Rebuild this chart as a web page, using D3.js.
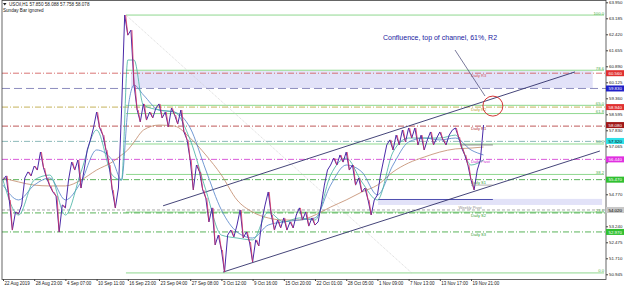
<!DOCTYPE html>
<html><head><meta charset="utf-8">
<script src="https://cdn.jsdelivr.net/npm/d3@7"></script>
<style>
body{margin:0;background:#fff;}
svg{display:block;font-family:"Liberation Sans",Arial,sans-serif;}
</style></head><body>
<div id="chart"></div>
<script>
// hourly closes, one per bar
const closes = [55.45,55.65,54.50,53.06,53.92,53.83,54.26,55.55,55.84,55.65,
  56.12,55.93,56.79,56.03,55.55,55.17,54.88,54.69,52.97,54.26,
  54.12,55.45,56.31,55.93,56.41,55.07,55.93,56.89,57.37,57.94,
  58.70,57.94,57.60,56.89,56.17,54.98,54.12,55.07,58.80,63.34,
  62.38,62.62,59.99,58.80,58.23,59.09,58.32,58.70,58.42,58.89,
  59.09,58.42,58.70,57.99,58.89,58.56,58.13,58.80,57.75,57.37,
  56.41,54.98,56.17,55.84,54.98,54.59,53.45,54.12,52.35,52.82,
  52.11,51.05,52.82,53.06,52.73,53.30,54.02,52.68,52.97,52.49,
  51.53,52.59,52.30,53.54,54.26,54.88,53.78,53.06,53.54,53.16,
  53.64,53.06,53.45,53.16,53.78,54.12,53.54,53.92,53.25,53.64,
  53.30,53.45,54.26,55.21,55.93,56.17,56.50,56.17,56.65,56.31,
  56.79,55.93,56.17,55.21,55.55,54.88,55.07,54.50,53.78,54.50,
  54.74,55.69,56.41,57.13,57.37,56.89,57.60,57.13,57.84,57.27,
  57.94,57.46,57.94,57.13,57.60,56.89,57.37,57.75,57.13,57.46,
  57.75,57.37,57.13,57.60,57.84,57.94,57.51,56.98,56.65,56.17,
  55.45,54.98,55.93,56.41,58.08];

// moving averages, read at these bar indices
const maIdx  = [0,5,10,15,20,25,30,35,38,40,42,45,50,55,60,65,70,75,80,85,90,95,100,105,110,115,120,125,130,135,140,145,150,154];
const fastMA = [55.45,53.78,55.45,55.69,53.78,55.84,57.84,55.69,55.45,61.19,61.19,59.04,58.80,58.70,57.37,54.98,52.82,52.68,52.59,53.92,53.45,53.64,53.54,55.69,56.50,55.36,54.50,56.79,57.46,57.46,57.46,57.60,56.17,56.41];
const midMA  = [55.21,54.50,55.21,55.55,54.50,55.36,56.89,56.41,55.45,58.80,59.99,59.52,58.80,58.70,57.94,55.93,54.02,52.97,52.68,53.30,53.45,53.54,53.64,55.21,56.17,55.84,54.74,56.17,57.27,57.46,57.37,57.46,56.89,56.65];
const slowMA = [55.55,55.36,55.21,55.17,55.17,55.45,55.93,56.31,56.65,56.89,57.27,57.84,58.08,58.03,57.46,56.65,55.69,54.50,53.92,53.64,53.54,53.54,53.78,54.16,54.50,54.88,55.21,55.84,56.27,56.55,56.79,56.94,56.98,57.03];

// axes
const dateIdx = [0,10,20,30,40,50,60,70,80,90,100,110,120,130,140,150];
const dateLabels = ["22 Aug 2019","28 Aug 23:00","4 Sep 07:00","10 Sep 11:00","16 Sep 23:00","23 Sep 04:00","27 Sep 08:00","3 Oct 12:00","9 Oct 16:00","15 Oct 20:00","22 Oct 01:00","28 Oct 05:00","1 Nov 09:00","7 Nov 13:00","13 Nov 17:00","19 Nov 21:00"];
const yTicks = [50.945,51.710,52.475,53.240,54.005,54.770,55.535,56.300,57.065,57.830,58.595,59.360,60.125,60.890,61.655,62.420,63.185,63.950];

// fibonacci retracement
const fibLevels = [0, 23.6, 38.2, 50.0, 61.8, 65.0, 78.6, 100.0];
const fibHigh = {i: 39.4, v: 63.34};
const fibLow  = {i: 131, v: 51.01};

// pivot lines
const pivotNames  = ["Daily R3","Daily R2","Daily R1","Daily Pivot","Daily S1","Weekly Pivot","Daily S2","Daily S3"];
const pivotValues = [60.56, 58.94, 58.03, 56.44, 55.47, 54.02, 53.88, 52.97];
const pivotColors = ["#d05050","#b8a030","#b03030","#d030d0","#30a030","#909090","#30a030","#30a030"];

// price boxes on the axis
const boxValues = [60.56, 59.83, 58.94, 58.08, 57.32, 56.44, 55.47, 54.02, 52.97];
const boxColors = ["#e03030","#2020c8","#e03030","#a01818","#30e0e8","#e030e0","#30c030","#c8c8c8","#30c030"];

// channel and zones
const lowerChannel = [{i: 70.5, v: 51.05}, {i: 191.3, v: 56.84}];
const upperChannel = [{i: 51.3, v: 54.22}, {i: 183.3, v: 60.62}];
const zones = [
  {i0: 41, i1: 189, v0: 59.85, v1: 60.66},
  {i0: 120.2, i1: 192, v0: 54.26, v1: 54.55}
];

const W = 625, H = 288;
const svg = d3.select('#chart').append('svg').attr('width', W).attr('height', H);

const x = d3.scaleLinear().domain([0, 154]).range([3, 483.5]);
const y = d3.scaleLinear().domain([50.72, 64.06]).range([279, 0]);
const right = 606;

const plot = svg.append('g');
plot.append('clipPath').attr('id', 'clip').append('rect')
  .attr('x', 2).attr('y', 0).attr('width', right - 2).attr('height', 279);
const g = plot.append('g').attr('clip-path', 'url(#clip)');

// zones
g.selectAll('.zone').data(zones).enter().append('rect')
  .attr('x', d => x(d.i0)).attr('width', d => x(d.i1) - x(d.i0))
  .attr('y', d => y(d.v1)).attr('height', d => y(d.v0) - y(d.v1))
  .attr('fill', '#e2e2f8');
g.append('line')
  .attr('x1', x(120.2)).attr('x2', x(157)).attr('y1', y(54.52)).attr('y2', y(54.52))
  .attr('stroke', '#5050b0').attr('stroke-width', 1.2);

// fibonacci lines
const fibV = p => fibLow.v + (fibHigh.v - fibLow.v) * p / 100;
g.selectAll('.fib').data(fibLevels).enter().append('line')
  .attr('x1', x(fibHigh.i)).attr('x2', right - 2)
  .attr('y1', d => y(fibV(d))).attr('y2', d => y(fibV(d)))
  .attr('stroke', '#8fd88f').attr('stroke-width', 1);
g.selectAll('.fibt').data(fibLevels).enter().append('text')
  .attr('x', right - 2).attr('y', d => y(fibV(d)) - 0.5)
  .attr('text-anchor', 'end').attr('font-size', 4.2).attr('fill', '#50b050')
  .text(d => d.toFixed(1));
g.append('line')
  .attr('x1', x(fibHigh.i)).attr('y1', y(fibHigh.v))
  .attr('x2', x(fibLow.i)).attr('y2', y(fibLow.v))
  .attr('stroke', '#c8c8c8').attr('stroke-width', 0.7).attr('stroke-dasharray', '1,1');

// pivots
g.selectAll('.piv').data(pivotValues).enter().append('line')
  .attr('x1', 2).attr('x2', right)
  .attr('y1', d => y(d)).attr('y2', d => y(d))
  .attr('stroke', (d, i) => pivotColors[i]).attr('stroke-width', 0.8)
  .attr('stroke-dasharray', (d, i) => pivotNames[i] === 'Weekly Pivot' ? '3,2' : '6,2,1,2');
g.selectAll('.pivt').data(pivotValues).enter().append('text')
  .attr('x', (d, i) => pivotNames[i] === 'Weekly Pivot' ? x(146) : x(150))
  .attr('y', (d, i) => pivotNames[i] === 'Weekly Pivot' ? y(d) - 0.8 : y(d) + 4)
  .attr('font-size', 4).attr('fill', (d, i) => pivotColors[i])
  .text((d, i) => pivotNames[i]);

// other horizontal lines
g.append('line').attr('x1', 2).attr('x2', right).attr('y1', y(59.83)).attr('y2', y(59.83))
  .attr('stroke', '#8080b8').attr('stroke-width', 0.9).attr('stroke-dasharray', '8,4');
g.append('line').attr('x1', 2).attr('x2', right).attr('y1', y(57.30)).attr('y2', y(57.30))
  .attr('stroke', '#70a8a8').attr('stroke-width', 0.8).attr('stroke-dasharray', '6,2,1,2');

// channel
[lowerChannel, upperChannel].forEach(c => {
  g.append('line')
    .attr('x1', x(c[0].i)).attr('y1', y(c[0].v))
    .attr('x2', x(c[1].i)).attr('y2', y(c[1].v))
    .attr('stroke', '#30306a').attr('stroke-width', 0.9);
});

// moving averages
const maLine = vals => d3.line().curve(d3.curveMonotoneX)
  .x((d, k) => x(maIdx[k])).y(d => y(d))(vals);
[[slowMA, '#c08868'], [midMA, '#5080c8'], [fastMA, '#40b0a0']].forEach(m => {
  g.append('path').attr('d', maLine(m[0])).attr('fill', 'none')
    .attr('stroke', m[1]).attr('stroke-width', 0.8);
});

// price
g.append('path').datum(closes)
  .attr('d', d3.line().x((d, i) => x(i)).y(d => y(d)))
  .attr('fill', 'none').attr('stroke', '#4a2aa8').attr('stroke-width', 1);
const moves = closes.slice(1).map((c, k) => ({i: k + 1, o: closes[k], c: c}));
g.selectAll('.dn').data(moves.filter(d => d.c < d.o)).enter().append('line')
  .attr('x1', d => x(d.i - 1) + 1).attr('y1', d => y(d.o))
  .attr('x2', d => x(d.i)).attr('y2', d => y(d.c))
  .attr('stroke', '#d83060').attr('stroke-width', 0.8);

// small marks near last bars
g.append('line').attr('x1', x(147)).attr('x2', x(157)).attr('y1', y(57.13)).attr('y2', y(57.13))
  .attr('stroke', '#606060').attr('stroke-width', 0.7);
g.append('line').attr('x1', x(150)).attr('x2', x(157)).attr('y1', y(55.21)).attr('y2', y(55.21))
  .attr('stroke', '#909090').attr('stroke-width', 0.7);

// annotation
svg.append('text').attr('x', 383).attr('y', 40)
  .attr('font-size', 7).attr('fill', '#2020a0')
  .text('Confluence, top of channel, 61%, R2');
svg.append('line').attr('x1', 455).attr('y1', 50).attr('x2', 485).attr('y2', 96)
  .attr('stroke', '#404070').attr('stroke-width', 0.7);
svg.append('circle').attr('cx', x(157)).attr('cy', y(58.94) - 1).attr('r', 10)
  .attr('fill', 'none').attr('stroke', '#d02020').attr('stroke-width', 0.9);

// frame
svg.append('rect').attr('x', 2).attr('y', 0.5).attr('width', right - 2).attr('height', 279)
  .attr('fill', 'none').attr('stroke', '#404040').attr('stroke-width', 0.8);

// axes (labels hidden where a price box sits on top)
const covered = v => boxValues.some(b => Math.abs(y(b) - y(v)) < 5);
const yAxis = svg.append('g').attr('transform', `translate(${right},0)`)
  .call(d3.axisRight(y).tickValues(yTicks).tickSize(2).tickFormat(d3.format('.3f')));
yAxis.select('.domain').remove();
yAxis.selectAll('text').attr('x', 3).attr('font-size', 4.4).attr('fill', '#202020')
  .attr('font-family', '"Liberation Sans",Arial,sans-serif')
  .style('display', d => covered(d) ? 'none' : null);
yAxis.selectAll('line').attr('stroke', '#404040');

const xAxis = svg.append('g').attr('transform', 'translate(0,279)')
  .call(d3.axisBottom(x).tickValues(dateIdx).tickSize(2).tickFormat((d, k) => dateLabels[k]));
xAxis.select('.domain').remove();
xAxis.selectAll('text').attr('text-anchor', 'start').attr('x', 1).attr('y', 3)
  .attr('font-size', 4.5).attr('fill', '#202020')
  .attr('font-family', '"Liberation Sans",Arial,sans-serif');
xAxis.selectAll('line').attr('stroke', '#404040');

// price boxes
const boxes = svg.selectAll('.box').data(boxValues).enter().append('g')
  .attr('transform', d => `translate(${right},${y(d)})`);
boxes.append('rect').attr('x', 0).attr('y', -3).attr('width', 18).attr('height', 6)
  .attr('fill', (d, i) => boxColors[i]);
boxes.append('text').attr('x', 2.5).attr('y', 1.6).attr('font-size', 4.4)
  .attr('fill', (d, i) => ['#30e0e8', '#c8c8c8'].includes(boxColors[i]) ? '#000' : '#fff')
  .text(d => d.toFixed(3));

// header
svg.append('path').attr('d', 'M3,3 L6.5,3 L4.75,5.5 Z').attr('fill', '#202020');
svg.append('text').attr('x', 9).attr('y', 5.5).attr('font-size', 4.6).attr('fill', '#202020')
  .text('USOil,H1  57.850 58.088 57.758 58.078');
svg.append('text').attr('x', 3).attr('y', 11.5).attr('font-size', 4.6).attr('fill', '#202020')
  .text('Sunday Bar ignored');
</script>
</body></html>
